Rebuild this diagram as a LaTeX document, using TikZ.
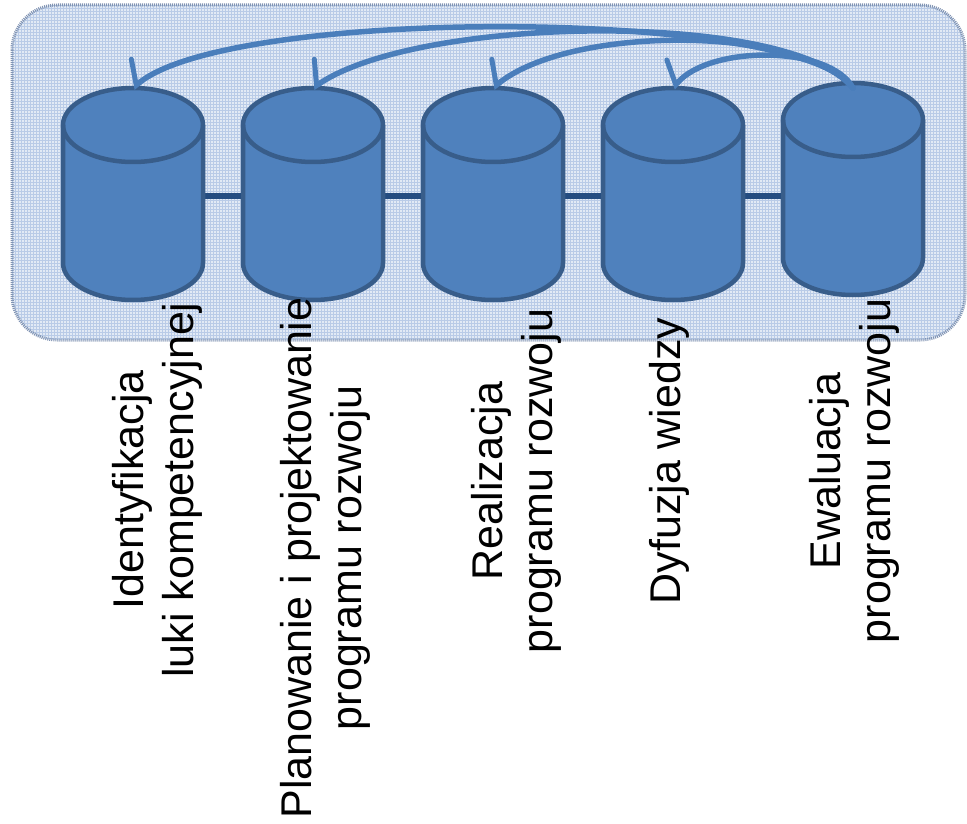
\documentclass[tikz,border=0pt]{standalone}
\usepackage{fontspec}
\setmainfont{Liberation Sans}
\usetikzlibrary{patterns,arrows.meta}
\definecolor{cylfill}{HTML}{4F81BD}
\definecolor{cylline}{HTML}{385D8A}
\definecolor{barcol}{HTML}{244C80}
\definecolor{arrcol}{HTML}{4A7EBB}
\definecolor{bgfill}{HTML}{E2EAF5}
\definecolor{bggrid}{HTML}{B9CBE7}
\definecolor{bgline}{HTML}{8194B3}
\tikzset{
  cylpic/.pic={
    \coordinate (-top) at (0,37);
    \coordinate (-mid) at (0,-71);
    \fill[cylfill] (-70,0) -- (-70,-138) arc (180:360:70pt and 37pt) -- (70,0) arc (0:180:70pt and 37pt) -- cycle;
    \draw[cylline, line width=4.5pt, line join=round] (-70,0) -- (-70,-138) arc (180:360:70pt and 37pt) -- (70,0);
    \draw[cylline, line width=4.5pt] (0,0) ellipse (70pt and 37pt);
  },
  lbl/.style={rotate=90, align=center, font=\fontsize{43}{50}\selectfont, inner sep=0pt},
  loop/.style={arrcol, line width=5.5pt, line cap=round,
    -{Straight Barb[right, length=13pt, width=46pt, line width=5pt, line cap=round]}},
  bar/.style={barcol, line width=6pt}
}
\begin{document}
\begin{tikzpicture}[x=1pt,y=1pt]
\useasboundingbox (0,0) rectangle (967,-824);
% background
\fill[bgfill, rounded corners=45pt] (12,-5) rectangle (965,-340);
\fill[pattern=grid, pattern color=bggrid, rounded corners=45pt] (12,-5) rectangle (965,-340);
\draw[bgline, line width=3pt, dash pattern=on 1pt off 1pt, rounded corners=45pt] (12,-5) rectangle (965,-340);
% bar coordinates
\coordinate (b1) at (133,-196);
\coordinate (b5) at (853,-196);
\draw[bar] (b1) -- (b5);
% cylinders
\pic (c1) at (133,-125) {cylpic};
\pic (c2) at (313,-125) {cylpic};
\pic (c3) at (493,-125) {cylpic};
\pic (c4) at (673,-125) {cylpic};
\pic (c5) at (853,-120) {cylpic};
\coordinate (src) at (853,-88);
% arrows
\draw[loop] (src) .. controls (800,-8) and (230,-6) .. (c1-top);
\draw[loop] (src) .. controls (790,-10) and (420,-15) .. (c2-top);
\draw[loop] (src) .. controls (800,-25) and (570,-25) .. (c3-top);
\draw[loop] (src) .. controls (830,-45) and (710,-45) .. (c4-top);
% labels
\node[lbl] (l1) at (157,-490) {Identyfikacja\\luki kompetencyjnej};
\node[lbl] (l2) at (325,-558) {Planowanie i projektowanie\\programu rozwoju};
\node[lbl] (l3) at (516,-481) {Realizacja\\programu rozwoju};
\node[lbl] (l4) at (669,-461) {Dyfuzja wiedzy};
\node[lbl] (l5) at (854,-471) {Ewaluacja\\programu rozwoju};
\end{tikzpicture}
\end{document}
